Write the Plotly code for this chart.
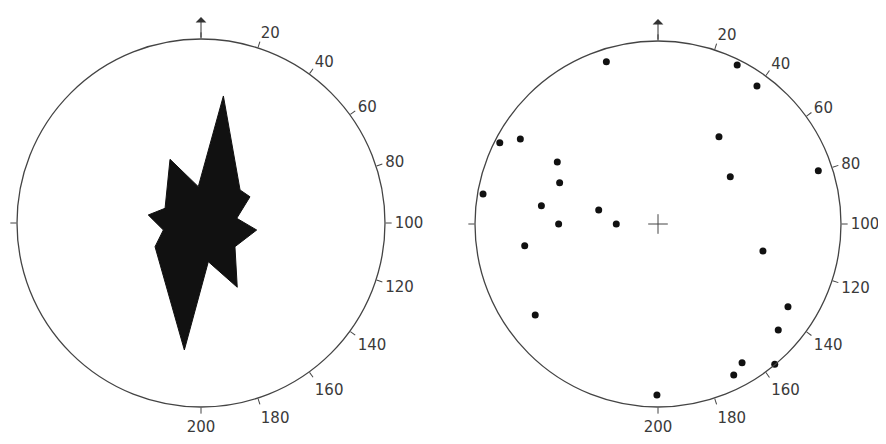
import plotly.graph_objects as go

# Angles are in grads (400 per full circle), 0 = north, clockwise.
tick_grads = [20, 40, 60, 80, 100, 120, 140, 160, 180, 200]
tick_labels = ["20", "40", "60", "80", "100", "120", "140", "160", "180", "200"]

# Left panel: rose diagram outline (azimuth in grads, relative length)
rose_az = [11.1, 55.3, 68.7, 91.7, 108.0, 138.8, 167.3, 188.1, 208.3,
           269.7, 288.3, 309.6, 324.7, 371.2, 395.3]
rose_len = [0.701, 0.278, 0.302, 0.196, 0.305, 0.225, 0.401, 0.214, 0.696,
            0.281, 0.208, 0.290, 0.211, 0.385, 0.198]

# Right panel: plotted poles (azimuth in grads, relative distance from centre)
pt_az = [380.4, 29.4, 39.6, 38.8, 330.2, 335.2, 335.1, 325.3, 63.1, 79.6,
         310.8, 309.9, 314.8, 300.0, 300.0, 289.7, 116.0, 136.1, 259.4,
         146.0, 165.3, 155.8, 170.4, 200.4]
pt_dist = [0.931, 0.971, 0.928, 0.582, 0.972, 0.884, 0.646, 0.583, 0.472,
           0.923, 0.970, 0.645, 0.333, 0.543, 0.228, 0.738, 0.592, 0.842,
           0.835, 0.876, 0.886, 0.997, 0.923, 0.934]

G2D = 0.9  # grads -> degrees

PAGE_MARGIN = 8  # default body margin of the html page
W, H = 886 - PAGE_MARGIN, 444 - PAGE_MARGIN
left_c, left_r = (201 - PAGE_MARGIN, 223 - PAGE_MARGIN), 184
right_c, right_r = (658 - PAGE_MARGIN, 224 - PAGE_MARGIN), 183


def dom(c, r):
    cx, cy = c
    return dict(x=[(cx - r) / W, (cx + r) / W],
                y=[(H - (cy + r)) / H, (H - (cy - r)) / H])


fig = go.Figure()

fig.add_trace(go.Scatterpolar(
    r=rose_len + rose_len[:1],
    theta=[a * G2D for a in rose_az + rose_az[:1]],
    mode="lines", fill="toself",
    fillcolor="#111111", line=dict(color="#111111", width=1),
    subplot="polar", showlegend=False, hoverinfo="skip"))

fig.add_trace(go.Scatterpolar(
    r=[0], theta=[0], mode="markers",
    marker=dict(symbol="cross-thin", size=14, line=dict(color="#444", width=1)),
    subplot="polar2", showlegend=False, hoverinfo="skip"))

fig.add_trace(go.Scatterpolar(
    r=pt_dist, theta=[a * G2D for a in pt_az], mode="markers",
    marker=dict(color="#111111", size=7),
    subplot="polar2", showlegend=False))

tickvals = [0] + [g * G2D for g in tick_grads] + [300 * G2D]
ticktext = [""] + tick_labels + [""]

ang = dict(rotation=90, direction="clockwise", tickmode="array",
           tickvals=tickvals, ticktext=ticktext, ticks="outside", ticklen=6,
           tickcolor="#444", tickwidth=1, showgrid=False, showline=True,
           linecolor="#444", linewidth=1.3,
           tickfont=dict(family="DejaVu Sans", size=15, color="#3a3a3a"))
rad = dict(visible=False, range=[0, 1])

fig.update_layout(
    width=W, height=H, margin=dict(l=0, r=0, t=0, b=0),
    paper_bgcolor="white", plot_bgcolor="white",
    polar=dict(domain=dom(left_c, left_r), angularaxis=ang, radialaxis=rad,
               bgcolor="white"),
    polar2=dict(domain=dom(right_c, right_r), angularaxis=ang, radialaxis=rad,
                bgcolor="white"),
)

for (cx, cy), r in [(left_c, left_r), (right_c, right_r)]:
    fig.add_annotation(x=cx / W, y=(H - (cy - r - 22)) / H, xref="paper",
                       yref="paper", ax=0, ay=22, showarrow=True,
                       arrowhead=1, arrowsize=1.8, arrowwidth=1,
                       arrowcolor="#333", text="")

fig.write_html("out.html")
